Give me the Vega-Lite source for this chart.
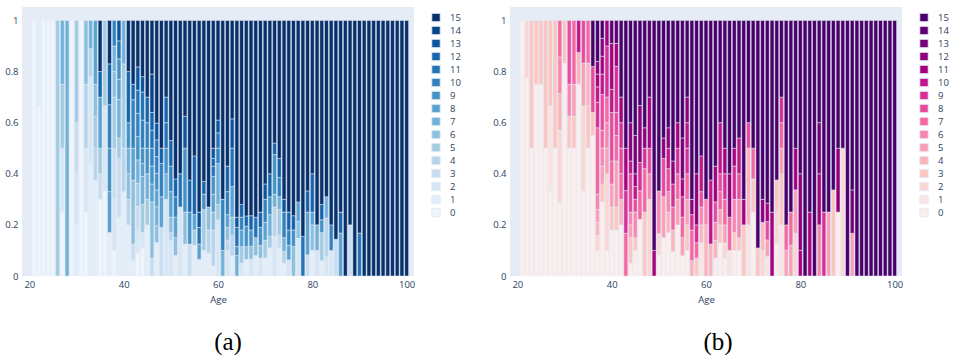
{
  "$schema": "https://vega.github.io/schema/vega-lite/v6.json",
  "padding": {"left": 4, "top": 7, "right": 0, "bottom": 0},
  "background": "white",
  "spacing": 27,
  "config": {
    "view": {"fill": "#e5ecf6", "stroke": null},
    "font": "Open Sans",
    "axis": {"labelColor": "#2a3f5f", "titleColor": "#2a3f5f", "labelFontSize": 9.5, "titleFontSize": 9.5, "titleFontWeight": "normal", "domain": false, "ticks": false, "gridColor": "white", "labelFont": "Open Sans", "titleFont": "Open Sans"},
    "legend": {"orient": "right", "offset": 13, "padding": 4, "symbolType": "square", "symbolSize": 72, "symbolStrokeColor": "#e5ecf6", "symbolStrokeWidth": 1, "labelFontSize": 9.5, "labelColor": "#2a3f5f", "labelFont": "Open Sans", "labelOffset": 9, "rowPadding": 0, "clipHeight": 13, "title": null},
    "title": {"font": "Liberation Serif", "fontSize": 25, "fontWeight": "normal", "color": "black", "orient": "bottom", "frame": "group", "anchor": "middle"}
  },
  "resolve": {"scale": {"color": "independent"}, "legend": {"color": "independent"}},
  "datasets": {
    "panelA": [
      {"age":21,"cat":0,"share":1},
      {"age":22,"cat":0,"share":0.667},{"age":22,"cat":1,"share":0.333},
      {"age":23,"cat":0,"share":1},
      {"age":24,"cat":0,"share":1},
      {"age":25,"cat":0,"share":1},
      {"age":26,"cat":5,"share":1},
      {"age":27,"cat":0,"share":0.25},{"age":27,"cat":2,"share":0.25},{"age":27,"cat":5,"share":0.25},{"age":27,"cat":7,"share":0.25},
      {"age":28,"cat":7,"share":1},
      {"age":29,"cat":0,"share":1},
      {"age":30,"cat":1,"share":0.2},{"age":30,"cat":2,"share":0.2},{"age":30,"cat":3,"share":0.2},{"age":30,"cat":5,"share":0.4},
      {"age":31,"cat":0,"share":1},
      {"age":32,"cat":0,"share":0.25},{"age":32,"cat":2,"share":0.25},{"age":32,"cat":4,"share":0.25},{"age":32,"cat":6,"share":0.25},
      {"age":33,"cat":1,"share":0.44},{"age":33,"cat":2,"share":0.34},{"age":33,"cat":4,"share":0.11},{"age":33,"cat":7,"share":0.11},
      {"age":34,"cat":1,"share":0.375},{"age":34,"cat":4,"share":0.125},{"age":34,"cat":5,"share":0.125},{"age":34,"cat":6,"share":0.125},{"age":34,"cat":8,"share":0.25},
      {"age":35,"cat":0,"share":0.3},{"age":35,"cat":3,"share":0.1},{"age":35,"cat":5,"share":0.1},{"age":35,"cat":8,"share":0.2},{"age":35,"cat":12,"share":0.1},{"age":35,"cat":15,"share":0.2},
      {"age":36,"cat":0,"share":0.333},{"age":36,"cat":2,"share":0.333},{"age":36,"cat":5,"share":0.334},
      {"age":37,"cat":1,"share":0.17},{"age":37,"cat":8,"share":0.16},{"age":37,"cat":9,"share":0.17},{"age":37,"cat":10,"share":0.17},{"age":37,"cat":12,"share":0.16},{"age":37,"cat":15,"share":0.17},
      {"age":38,"cat":0,"share":0.1},{"age":38,"cat":2,"share":0.2},{"age":38,"cat":3,"share":0.2},{"age":38,"cat":5,"share":0.2},{"age":38,"cat":6,"share":0.1},{"age":38,"cat":7,"share":0.1},{"age":38,"cat":10,"share":0.1},
      {"age":39,"cat":1,"share":0.23},{"age":39,"cat":3,"share":0.23},{"age":39,"cat":5,"share":0.08},{"age":39,"cat":7,"share":0.15},{"age":39,"cat":8,"share":0.08},{"age":39,"cat":9,"share":0.08},{"age":39,"cat":11,"share":0.07},{"age":39,"cat":13,"share":0.08},
      {"age":40,"cat":1,"share":0.33},{"age":40,"cat":4,"share":0.17},{"age":40,"cat":5,"share":0.33},{"age":40,"cat":7,"share":0.17},
      {"age":41,"cat":1,"share":0.2},{"age":41,"cat":4,"share":0.1},{"age":41,"cat":6,"share":0.1},{"age":41,"cat":7,"share":0.1},{"age":41,"cat":9,"share":0.1},{"age":41,"cat":12,"share":0.2},{"age":41,"cat":15,"share":0.2},
      {"age":42,"cat":1,"share":0.06},{"age":42,"cat":3,"share":0.065},{"age":42,"cat":6,"share":0.25},{"age":42,"cat":8,"share":0.125},{"age":42,"cat":10,"share":0.19},{"age":42,"cat":12,"share":0.06},{"age":42,"cat":15,"share":0.25},
      {"age":43,"cat":0,"share":0.1},{"age":43,"cat":2,"share":0.1},{"age":43,"cat":3,"share":0.1},{"age":43,"cat":5,"share":0.1},{"age":43,"cat":7,"share":0.1},{"age":43,"cat":9,"share":0.1},{"age":43,"cat":10,"share":0.1},{"age":43,"cat":11,"share":0.1},{"age":43,"cat":13,"share":0.1},{"age":43,"cat":15,"share":0.2},
      {"age":44,"cat":0,"share":0.11},{"age":44,"cat":2,"share":0.06},{"age":44,"cat":5,"share":0.11},{"age":44,"cat":7,"share":0.11},{"age":44,"cat":8,"share":0.05},{"age":44,"cat":9,"share":0.06},{"age":44,"cat":10,"share":0.11},{"age":44,"cat":11,"share":0.11},{"age":44,"cat":13,"share":0.06},{"age":44,"cat":15,"share":0.22},
      {"age":45,"cat":1,"share":0.2},{"age":45,"cat":5,"share":0.1},{"age":45,"cat":7,"share":0.1},{"age":45,"cat":9,"share":0.1},{"age":45,"cat":10,"share":0.1},{"age":45,"cat":12,"share":0.1},{"age":45,"cat":15,"share":0.3},
      {"age":46,"cat":3,"share":0.07},{"age":46,"cat":6,"share":0.22},{"age":46,"cat":8,"share":0.07},{"age":46,"cat":9,"share":0.07},{"age":46,"cat":10,"share":0.07},{"age":46,"cat":11,"share":0.07},{"age":46,"cat":12,"share":0.07},{"age":46,"cat":14,"share":0.15},{"age":46,"cat":15,"share":0.21},
      {"age":47,"cat":1,"share":0.14},{"age":47,"cat":6,"share":0.07},{"age":47,"cat":7,"share":0.08},{"age":47,"cat":8,"share":0.07},{"age":47,"cat":9,"share":0.07},{"age":47,"cat":10,"share":0.07},{"age":47,"cat":11,"share":0.07},{"age":47,"cat":13,"share":0.07},{"age":47,"cat":15,"share":0.43},
      {"age":48,"cat":3,"share":0.19},{"age":48,"cat":8,"share":0.12},{"age":48,"cat":10,"share":0.13},{"age":48,"cat":12,"share":0.06},{"age":48,"cat":15,"share":0.5},
      {"age":49,"cat":2,"share":0.3},{"age":49,"cat":7,"share":0.1},{"age":49,"cat":9,"share":0.1},{"age":49,"cat":11,"share":0.1},{"age":49,"cat":12,"share":0.1},{"age":49,"cat":15,"share":0.3},
      {"age":50,"cat":2,"share":0.14},{"age":50,"cat":4,"share":0.03},{"age":50,"cat":6,"share":0.06},{"age":50,"cat":8,"share":0.1},{"age":50,"cat":10,"share":0.1},{"age":50,"cat":12,"share":0.1},{"age":50,"cat":15,"share":0.47},
      {"age":51,"cat":1,"share":0.08},{"age":51,"cat":6,"share":0.07},{"age":51,"cat":8,"share":0.08},{"age":51,"cat":10,"share":0.08},{"age":51,"cat":12,"share":0.07},{"age":51,"cat":15,"share":0.62},
      {"age":52,"cat":2,"share":0.27},{"age":52,"cat":11,"share":0.13},{"age":52,"cat":15,"share":0.6},
      {"age":53,"cat":1,"share":0.125},{"age":53,"cat":6,"share":0.125},{"age":53,"cat":9,"share":0.25},{"age":53,"cat":13,"share":0.125},{"age":53,"cat":15,"share":0.375},
      {"age":54,"cat":3,"share":0.125},{"age":54,"cat":9,"share":0.125},{"age":54,"cat":12,"share":0.125},{"age":54,"cat":15,"share":0.625},
      {"age":55,"cat":1,"share":0.12},{"age":55,"cat":5,"share":0.06},{"age":55,"cat":8,"share":0.06},{"age":55,"cat":12,"share":0.23},{"age":55,"cat":15,"share":0.53},
      {"age":56,"cat":1,"share":0.065},{"age":56,"cat":8,"share":0.06},{"age":56,"cat":11,"share":0.065},{"age":56,"cat":13,"share":0.06},{"age":56,"cat":15,"share":0.75},
      {"age":57,"cat":1,"share":0.1},{"age":57,"cat":5,"share":0.16},{"age":57,"cat":9,"share":0.06},{"age":57,"cat":12,"share":0.05},{"age":57,"cat":15,"share":0.63},
      {"age":58,"cat":1,"share":0.09},{"age":58,"cat":4,"share":0.09},{"age":58,"cat":6,"share":0.09},{"age":58,"cat":15,"share":0.73},
      {"age":59,"cat":1,"share":0.04},{"age":59,"cat":4,"share":0.14},{"age":59,"cat":6,"share":0.07},{"age":59,"cat":8,"share":0.07},{"age":59,"cat":9,"share":0.07},{"age":59,"cat":11,"share":0.04},{"age":59,"cat":12,"share":0.03},{"age":59,"cat":13,"share":0.04},{"age":59,"cat":15,"share":0.5},
      {"age":60,"cat":2,"share":0.22},{"age":60,"cat":5,"share":0.06},{"age":60,"cat":7,"share":0.16},{"age":60,"cat":10,"share":0.06},{"age":60,"cat":11,"share":0.06},{"age":60,"cat":13,"share":0.05},{"age":60,"cat":15,"share":0.39},
      {"age":61,"cat":7,"share":0.1},{"age":61,"cat":10,"share":0.2},{"age":61,"cat":15,"share":0.7},
      {"age":62,"cat":2,"share":0.1},{"age":62,"cat":4,"share":0.04},{"age":62,"cat":6,"share":0.05},{"age":62,"cat":8,"share":0.05},{"age":62,"cat":10,"share":0.09},{"age":62,"cat":12,"share":0.1},{"age":62,"cat":15,"share":0.57},
      {"age":63,"cat":1,"share":0.08},{"age":63,"cat":4,"share":0.08},{"age":63,"cat":6,"share":0.07},{"age":63,"cat":8,"share":0.12},{"age":63,"cat":11,"share":0.15},{"age":63,"cat":13,"share":0.115},{"age":63,"cat":15,"share":0.385},
      {"age":64,"cat":7,"share":0.08},{"age":64,"cat":9,"share":0.035},{"age":64,"cat":11,"share":0.075},{"age":64,"cat":13,"share":0.04},{"age":64,"cat":15,"share":0.77},
      {"age":65,"cat":2,"share":0.05},{"age":65,"cat":5,"share":0.065},{"age":65,"cat":8,"share":0.065},{"age":65,"cat":10,"share":0.05},{"age":65,"cat":12,"share":0.05},{"age":65,"cat":15,"share":0.72},
      {"age":66,"cat":1,"share":0.065},{"age":66,"cat":6,"share":0.05},{"age":66,"cat":9,"share":0.08},{"age":66,"cat":12,"share":0.04},{"age":66,"cat":15,"share":0.765},
      {"age":67,"cat":2,"share":0.066},{"age":67,"cat":6,"share":0.05},{"age":67,"cat":9,"share":0.064},{"age":67,"cat":12,"share":0.056},{"age":67,"cat":15,"share":0.764},
      {"age":68,"cat":1,"share":0.08},{"age":68,"cat":6,"share":0.07},{"age":68,"cat":11,"share":0.08},{"age":68,"cat":15,"share":0.77},
      {"age":69,"cat":2,"share":0.07},{"age":69,"cat":6,"share":0.05},{"age":69,"cat":9,"share":0.07},{"age":69,"cat":12,"share":0.06},{"age":69,"cat":15,"share":0.75},
      {"age":70,"cat":1,"share":0.07},{"age":70,"cat":5,"share":0.07},{"age":70,"cat":8,"share":0.07},{"age":70,"cat":10,"share":0.09},{"age":70,"cat":13,"share":0.06},{"age":70,"cat":15,"share":0.64},
      {"age":71,"cat":1,"share":0.11},{"age":71,"cat":5,"share":0.045},{"age":71,"cat":7,"share":0.085},{"age":71,"cat":9,"share":0.07},{"age":71,"cat":12,"share":0.09},{"age":71,"cat":15,"share":0.6},
      {"age":72,"cat":2,"share":0.155},{"age":72,"cat":4,"share":0.115},{"age":72,"cat":7,"share":0.05},{"age":72,"cat":9,"share":0.155},{"age":72,"cat":12,"share":0.045},{"age":72,"cat":15,"share":0.48},
      {"age":73,"cat":1,"share":0.11},{"age":73,"cat":3,"share":0.05},{"age":73,"cat":5,"share":0.1},{"age":73,"cat":7,"share":0.05},{"age":73,"cat":10,"share":0.075},{"age":73,"cat":12,"share":0.075},{"age":73,"cat":15,"share":0.54},
      {"age":74,"cat":1,"share":0.05},{"age":74,"cat":4,"share":0.046},{"age":74,"cat":7,"share":0.054},{"age":74,"cat":10,"share":0.1},{"age":74,"cat":13,"share":0.05},{"age":74,"cat":15,"share":0.7},
      {"age":75,"cat":2,"share":0.063},{"age":75,"cat":8,"share":0.057},{"age":75,"cat":10,"share":0.06},{"age":75,"cat":12,"share":0.07},{"age":75,"cat":15,"share":0.75},
      {"age":76,"cat":6,"share":0.115},{"age":76,"cat":9,"share":0.065},{"age":76,"cat":12,"share":0.056},{"age":76,"cat":15,"share":0.764},
      {"age":77,"cat":2,"share":0.148},{"age":77,"cat":6,"share":0.066},{"age":77,"cat":8,"share":0.076},{"age":77,"cat":15,"share":0.71},
      {"age":78,"cat":11,"share":0.155},{"age":78,"cat":15,"share":0.845},
      {"age":79,"cat":3,"share":0.083},{"age":79,"cat":8,"share":0.167},{"age":79,"cat":12,"share":0.083},{"age":79,"cat":15,"share":0.667},
      {"age":80,"cat":1,"share":0.1},{"age":80,"cat":6,"share":0.1},{"age":80,"cat":8,"share":0.05},{"age":80,"cat":12,"share":0.15},{"age":80,"cat":15,"share":0.6},
      {"age":81,"cat":2,"share":0.1},{"age":81,"cat":7,"share":0.1},{"age":81,"cat":15,"share":0.8},
      {"age":82,"cat":1,"share":0.06},{"age":82,"cat":5,"share":0.11},{"age":82,"cat":9,"share":0.05},{"age":82,"cat":12,"share":0.06},{"age":82,"cat":15,"share":0.72},
      {"age":83,"cat":2,"share":0.076},{"age":83,"cat":4,"share":0.151},{"age":83,"cat":7,"share":0.083},{"age":83,"cat":15,"share":0.69},
      {"age":84,"cat":2,"share":0.1},{"age":84,"cat":10,"share":0.1},{"age":84,"cat":15,"share":0.8},
      {"age":85,"cat":3,"share":0.144},{"age":85,"cat":15,"share":0.856},
      {"age":86,"cat":8,"share":0.168},{"age":86,"cat":12,"share":0.082},{"age":86,"cat":15,"share":0.75},
      {"age":87,"cat":15,"share":1},
      {"age":88,"cat":3,"share":0.2},{"age":88,"cat":15,"share":0.8},
      {"age":89,"cat":15,"share":1},
      {"age":90,"cat":11,"share":0.168},{"age":90,"cat":15,"share":0.832},
      {"age":91,"cat":15,"share":1},{"age":92,"cat":15,"share":1},{"age":93,"cat":15,"share":1},{"age":94,"cat":15,"share":1},{"age":95,"cat":15,"share":1},
      {"age":96,"cat":15,"share":1},{"age":97,"cat":15,"share":1},{"age":98,"cat":15,"share":1},{"age":99,"cat":15,"share":1},{"age":100,"cat":15,"share":1}
    ],
    "panelB": [
      {"age":21,"cat":0,"share":1},
      {"age":22,"cat":0,"share":0.775},{"age":22,"cat":2,"share":0.225},
      {"age":23,"cat":0,"share":0.5},{"age":23,"cat":3,"share":0.5},
      {"age":24,"cat":0,"share":0.75},{"age":24,"cat":3,"share":0.25},
      {"age":25,"cat":0,"share":0.75},{"age":25,"cat":3,"share":0.25},
      {"age":26,"cat":0,"share":0.5},{"age":26,"cat":3,"share":0.5},
      {"age":27,"cat":0,"share":0.333},{"age":27,"cat":1,"share":0.333},{"age":27,"cat":3,"share":0.334},
      {"age":28,"cat":0,"share":0.5},{"age":28,"cat":3,"share":0.5},
      {"age":29,"cat":0,"share":0.286},{"age":29,"cat":2,"share":0.285},{"age":29,"cat":4,"share":0.143},{"age":29,"cat":6,"share":0.143},{"age":29,"cat":7,"share":0.143},
      {"age":30,"cat":0,"share":0.833},{"age":30,"cat":3,"share":0.167},
      {"age":31,"cat":0,"share":0.5},{"age":31,"cat":3,"share":0.125},{"age":31,"cat":6,"share":0.125},{"age":31,"cat":8,"share":0.25},
      {"age":32,"cat":0,"share":0.5},{"age":32,"cat":3,"share":0.125},{"age":32,"cat":5,"share":0.125},{"age":32,"cat":7,"share":0.25},
      {"age":33,"cat":0,"share":0.75},{"age":33,"cat":4,"share":0.125},{"age":33,"cat":10,"share":0.125},
      {"age":34,"cat":0,"share":0.333},{"age":34,"cat":2,"share":0.333},{"age":34,"cat":5,"share":0.167},{"age":34,"cat":8,"share":0.167},
      {"age":35,"cat":0,"share":0.5},{"age":35,"cat":3,"share":0.167},{"age":35,"cat":4,"share":0.166},{"age":35,"cat":7,"share":0.167},
      {"age":36,"cat":0,"share":0.55},{"age":36,"cat":3,"share":0.09},{"age":36,"cat":8,"share":0.18},{"age":36,"cat":15,"share":0.18},
      {"age":37,"cat":0,"share":0.1},{"age":37,"cat":2,"share":0.06},{"age":37,"cat":4,"share":0.05},{"age":37,"cat":5,"share":0.05},{"age":37,"cat":6,"share":0.06},{"age":37,"cat":7,"share":0.26},{"age":37,"cat":9,"share":0.1},{"age":37,"cat":10,"share":0.06},{"age":37,"cat":11,"share":0.05},{"age":37,"cat":12,"share":0.05},{"age":37,"cat":15,"share":0.16},
      {"age":38,"cat":0,"share":0.29},{"age":38,"cat":3,"share":0.07},{"age":38,"cat":5,"share":0.07},{"age":38,"cat":6,"share":0.07},{"age":38,"cat":7,"share":0.07},{"age":38,"cat":8,"share":0.14},{"age":38,"cat":10,"share":0.08},{"age":38,"cat":11,"share":0.07},{"age":38,"cat":12,"share":0.07},{"age":38,"cat":15,"share":0.07},
      {"age":39,"cat":0,"share":0.1},{"age":39,"cat":2,"share":0.3},{"age":39,"cat":5,"share":0.1},{"age":39,"cat":6,"share":0.1},{"age":39,"cat":7,"share":0.1},{"age":39,"cat":9,"share":0.2},{"age":39,"cat":11,"share":0.1},
      {"age":40,"cat":0,"share":0.18},{"age":40,"cat":3,"share":0.09},{"age":40,"cat":5,"share":0.09},{"age":40,"cat":7,"share":0.09},{"age":40,"cat":8,"share":0.19},{"age":40,"cat":10,"share":0.09},{"age":40,"cat":11,"share":0.18},{"age":40,"cat":14,"share":0.09},
      {"age":41,"cat":0,"share":0.18},{"age":41,"cat":3,"share":0.09},{"age":41,"cat":5,"share":0.18},{"age":41,"cat":7,"share":0.1},{"age":41,"cat":8,"share":0.09},{"age":41,"cat":9,"share":0.18},{"age":41,"cat":11,"share":0.09},{"age":41,"cat":14,"share":0.09},
      {"age":42,"cat":0,"share":0.2},{"age":42,"cat":4,"share":0.1},{"age":42,"cat":7,"share":0.1},{"age":42,"cat":8,"share":0.1},{"age":42,"cat":9,"share":0.1},{"age":42,"cat":11,"share":0.1},{"age":42,"cat":15,"share":0.3},
      {"age":43,"cat":7,"share":0.167},{"age":43,"cat":9,"share":0.167},{"age":43,"cat":11,"share":0.166},{"age":43,"cat":15,"share":0.5},
      {"age":44,"cat":0,"share":0.05},{"age":44,"cat":3,"share":0.1},{"age":44,"cat":5,"share":0.05},{"age":44,"cat":6,"share":0.05},{"age":44,"cat":8,"share":0.15},{"age":44,"cat":10,"share":0.05},{"age":44,"cat":12,"share":0.15},{"age":44,"cat":15,"share":0.4},
      {"age":45,"cat":0,"share":0.1},{"age":45,"cat":3,"share":0.05},{"age":45,"cat":6,"share":0.1},{"age":45,"cat":8,"share":0.05},{"age":45,"cat":10,"share":0.05},{"age":45,"cat":11,"share":0.05},{"age":45,"cat":13,"share":0.15},{"age":45,"cat":15,"share":0.45},
      {"age":46,"cat":0,"share":0.222},{"age":46,"cat":7,"share":0.111},{"age":46,"cat":9,"share":0.111},{"age":46,"cat":12,"share":0.223},{"age":46,"cat":15,"share":0.333},
      {"age":47,"cat":3,"share":0.25},{"age":47,"cat":7,"share":0.17},{"age":47,"cat":9,"share":0.08},{"age":47,"cat":12,"share":0.08},{"age":47,"cat":15,"share":0.42},
      {"age":48,"cat":2,"share":0.3},{"age":48,"cat":6,"share":0.1},{"age":48,"cat":8,"share":0.1},{"age":48,"cat":11,"share":0.2},{"age":48,"cat":14,"share":0.3},
      {"age":49,"cat":11,"share":0.1},{"age":49,"cat":15,"share":0.9},
      {"age":50,"cat":0,"share":0.083},{"age":50,"cat":2,"share":0.083},{"age":50,"cat":6,"share":0.167},{"age":50,"cat":15,"share":0.667},
      {"age":51,"cat":0,"share":0.15},{"age":51,"cat":5,"share":0.16},{"age":51,"cat":8,"share":0.15},{"age":51,"cat":12,"share":0.08},{"age":51,"cat":15,"share":0.46},
      {"age":52,"cat":0,"share":0.17},{"age":52,"cat":4,"share":0.08},{"age":52,"cat":6,"share":0.08},{"age":52,"cat":8,"share":0.09},{"age":52,"cat":10,"share":0.08},{"age":52,"cat":12,"share":0.08},{"age":52,"cat":15,"share":0.42},
      {"age":53,"cat":0,"share":0.095},{"age":53,"cat":4,"share":0.085},{"age":53,"cat":7,"share":0.09},{"age":53,"cat":9,"share":0.09},{"age":53,"cat":12,"share":0.09},{"age":53,"cat":15,"share":0.55},
      {"age":54,"cat":0,"share":0.2},{"age":54,"cat":5,"share":0.1},{"age":54,"cat":7,"share":0.1},{"age":54,"cat":9,"share":0.1},{"age":54,"cat":11,"share":0.1},{"age":54,"cat":15,"share":0.4},
      {"age":55,"cat":0,"share":0.08},{"age":55,"cat":5,"share":0.07},{"age":55,"cat":7,"share":0.08},{"age":55,"cat":9,"share":0.08},{"age":55,"cat":11,"share":0.07},{"age":55,"cat":13,"share":0.16},{"age":55,"cat":15,"share":0.46},
      {"age":56,"cat":0,"share":0.1},{"age":56,"cat":3,"share":0.1},{"age":56,"cat":5,"share":0.1},{"age":56,"cat":7,"share":0.1},{"age":56,"cat":9,"share":0.1},{"age":56,"cat":10,"share":0.1},{"age":56,"cat":12,"share":0.1},{"age":56,"cat":15,"share":0.3},
      {"age":57,"cat":4,"share":0.06},{"age":57,"cat":7,"share":0.12},{"age":57,"cat":9,"share":0.06},{"age":57,"cat":12,"share":0.06},{"age":57,"cat":15,"share":0.7},
      {"age":58,"cat":3,"share":0.07},{"age":58,"cat":7,"share":0.06},{"age":58,"cat":9,"share":0.07},{"age":58,"cat":12,"share":0.2},{"age":58,"cat":15,"share":0.6},
      {"age":59,"cat":1,"share":0.13},{"age":59,"cat":4,"share":0.07},{"age":59,"cat":6,"share":0.07},{"age":59,"cat":8,"share":0.06},{"age":59,"cat":10,"share":0.14},{"age":59,"cat":15,"share":0.53},
      {"age":60,"cat":4,"share":0.2},{"age":60,"cat":6,"share":0.1},{"age":60,"cat":15,"share":0.7},
      {"age":61,"cat":4,"share":0.125},{"age":61,"cat":10,"share":0.25},{"age":61,"cat":15,"share":0.625},
      {"age":62,"cat":0,"share":0.07},{"age":62,"cat":4,"share":0.07},{"age":62,"cat":6,"share":0.07},{"age":62,"cat":8,"share":0.08},{"age":62,"cat":11,"share":0.14},{"age":62,"cat":15,"share":0.57},
      {"age":63,"cat":0,"share":0.13},{"age":63,"cat":3,"share":0.07},{"age":63,"cat":5,"share":0.06},{"age":63,"cat":7,"share":0.07},{"age":63,"cat":8,"share":0.07},{"age":63,"cat":10,"share":0.2},{"age":63,"cat":15,"share":0.4},
      {"age":64,"cat":0,"share":0.07},{"age":64,"cat":2,"share":0.06},{"age":64,"cat":5,"share":0.07},{"age":64,"cat":7,"share":0.1},{"age":64,"cat":9,"share":0.1},{"age":64,"cat":11,"share":0.1},{"age":64,"cat":15,"share":0.5},
      {"age":65,"cat":1,"share":0.1},{"age":65,"cat":7,"share":0.13},{"age":65,"cat":12,"share":0.17},{"age":65,"cat":15,"share":0.6},
      {"age":66,"cat":0,"share":0.1},{"age":66,"cat":3,"share":0.07},{"age":66,"cat":6,"share":0.13},{"age":66,"cat":9,"share":0.13},{"age":66,"cat":11,"share":0.07},{"age":66,"cat":15,"share":0.5},
      {"age":67,"cat":0,"share":0.1},{"age":67,"cat":3,"share":0.05},{"age":67,"cat":6,"share":0.15},{"age":67,"cat":8,"share":0.1},{"age":67,"cat":10,"share":0.14},{"age":67,"cat":15,"share":0.46},
      {"age":68,"cat":3,"share":0.2},{"age":68,"cat":11,"share":0.1},{"age":68,"cat":15,"share":0.7},
      {"age":69,"cat":1,"share":0.2},{"age":69,"cat":4,"share":0.3},{"age":69,"cat":8,"share":0.1},{"age":69,"cat":15,"share":0.4},
      {"age":70,"cat":0,"share":0.25},{"age":70,"cat":3,"share":0.13},{"age":70,"cat":7,"share":0.12},{"age":70,"cat":15,"share":0.5},
      {"age":71,"cat":3,"share":0.11},{"age":71,"cat":15,"share":0.89},
      {"age":72,"cat":2,"share":0.1},{"age":72,"cat":4,"share":0.11},{"age":72,"cat":12,"share":0.09},{"age":72,"cat":15,"share":0.7},
      {"age":73,"cat":1,"share":0.076},{"age":73,"cat":5,"share":0.065},{"age":73,"cat":8,"share":0.072},{"age":73,"cat":11,"share":0.072},{"age":73,"cat":15,"share":0.715},
      {"age":74,"cat":11,"share":0.25},{"age":74,"cat":15,"share":0.75},
      {"age":75,"cat":0,"share":0.128},{"age":75,"cat":2,"share":0.122},{"age":75,"cat":3,"share":0.126},{"age":75,"cat":15,"share":0.624},
      {"age":76,"cat":1,"share":0.2},{"age":76,"cat":3,"share":0.2},{"age":76,"cat":5,"share":0.1},{"age":76,"cat":7,"share":0.1},{"age":76,"cat":9,"share":0.1},{"age":76,"cat":15,"share":0.3},
      {"age":77,"cat":5,"share":0.1},{"age":77,"cat":7,"share":0.1},{"age":77,"cat":15,"share":0.8},
      {"age":78,"cat":5,"share":0.12},{"age":78,"cat":7,"share":0.13},{"age":78,"cat":15,"share":0.75},
      {"age":79,"cat":2,"share":0.167},{"age":79,"cat":5,"share":0.17},{"age":79,"cat":11,"share":0.163},{"age":79,"cat":15,"share":0.5},
      {"age":80,"cat":11,"share":0.1},{"age":80,"cat":12,"share":0.3},{"age":80,"cat":15,"share":0.6},
      {"age":81,"cat":15,"share":1},
      {"age":82,"cat":11,"share":0.25},{"age":82,"cat":15,"share":0.75},
      {"age":83,"cat":15,"share":1},
      {"age":84,"cat":6,"share":0.2},{"age":84,"cat":11,"share":0.2},{"age":84,"cat":13,"share":0.2},{"age":84,"cat":15,"share":0.4},
      {"age":85,"cat":9,"share":0.25},{"age":85,"cat":15,"share":0.75},
      {"age":86,"cat":5,"share":0.25},{"age":86,"cat":15,"share":0.75},
      {"age":87,"cat":3,"share":0.337},{"age":87,"cat":15,"share":0.663},
      {"age":88,"cat":0,"share":0.25},{"age":88,"cat":12,"share":0.25},{"age":88,"cat":15,"share":0.5},
      {"age":89,"cat":2,"share":0.5},{"age":89,"cat":15,"share":0.5},
      {"age":90,"cat":15,"share":1},
      {"age":91,"cat":5,"share":0.167},{"age":91,"cat":13,"share":0.17},{"age":91,"cat":15,"share":0.663},
      {"age":92,"cat":15,"share":1},{"age":93,"cat":15,"share":1},{"age":94,"cat":15,"share":1},{"age":95,"cat":15,"share":1},
      {"age":96,"cat":15,"share":1},{"age":97,"cat":15,"share":1},{"age":98,"cat":15,"share":1},{"age":99,"cat":15,"share":1},{"age":100,"cat":15,"share":1}
    ]
  },
  "hconcat": [
    {
      "data": {"name": "panelA"},
      "width": 392,
      "height": 269,
      "title": {"text": "(a)", "dx": 10, "offset": 26},
      "mark": {"type": "bar", "size": 3.9, "stroke": "#e5ecf6", "strokeWidth": 0.5},
      "encoding": {
        "x": {"field": "age", "type": "quantitative", "scale": {"domain": [19.5, 100.5], "nice": false, "zero": false}, "axis": {"values": [20, 40, 60, 80, 100], "title": "Age", "grid": false, "labelPadding": 3, "titlePadding": 6}},
        "y": {"field": "share", "type": "quantitative", "stack": "normalize", "scale": {"domain": [0, 1.0526], "nice": false}, "axis": {"values": [0, 0.2, 0.4, 0.6, 0.8, 1], "title": null, "labelPadding": 4, "labelExpr": "format(datum.value, '~g')", "grid": false}},
        "color": {"field": "cat", "type": "ordinal", "scale": {"domain": [15, 14, 13, 12, 11, 10, 9, 8, 7, 6, 5, 4, 3, 2, 1, 0], "range": ["#08306b", "#08458a", "#0b559f", "#1764ab", "#2373b6", "#3282be", "#4592c6", "#5aa2cf", "#72b2d8", "#8cc0dd", "#a3cce3", "#b7d4ea", "#c8ddf0", "#d6e6f4", "#e3eef9", "#eef5fc"]}, "legend": {"title": null}},
        "order": {"field": "cat", "type": "quantitative", "sort": "ascending"}
      }
    },
    {
      "data": {"name": "panelB"},
      "width": 392,
      "height": 269,
      "title": {"text": "(b)", "dx": 12, "offset": 26},
      "mark": {"type": "bar", "size": 3.9, "stroke": "#e5ecf6", "strokeWidth": 0.5},
      "encoding": {
        "x": {"field": "age", "type": "quantitative", "scale": {"domain": [19.5, 100.5], "nice": false, "zero": false}, "axis": {"values": [20, 40, 60, 80, 100], "title": "Age", "grid": false, "labelPadding": 3, "titlePadding": 6}},
        "y": {"field": "share", "type": "quantitative", "stack": "normalize", "scale": {"domain": [0, 1.0526], "nice": false}, "axis": {"values": [0, 0.2, 0.4, 0.6, 0.8, 1], "title": null, "labelPadding": 4, "labelExpr": "format(datum.value, '~g')", "grid": false}},
        "color": {"field": "cat", "type": "ordinal", "scale": {"domain": [15, 14, 13, 12, 11, 10, 9, 8, 7, 6, 5, 4, 3, 2, 1, 0], "range": ["#49006a", "#5e0070", "#760176", "#8e017a", "#a8017d", "#c11588", "#d82f95", "#ea4a9c", "#f766a1", "#f985b0", "#fa9fb5", "#fbb3bc", "#fcc5c0", "#fcd5d2", "#fde2e0", "#fdeeec"]}, "legend": {"title": null}},
        "order": {"field": "cat", "type": "quantitative", "sort": "ascending"}
      }
    }
  ]
}
